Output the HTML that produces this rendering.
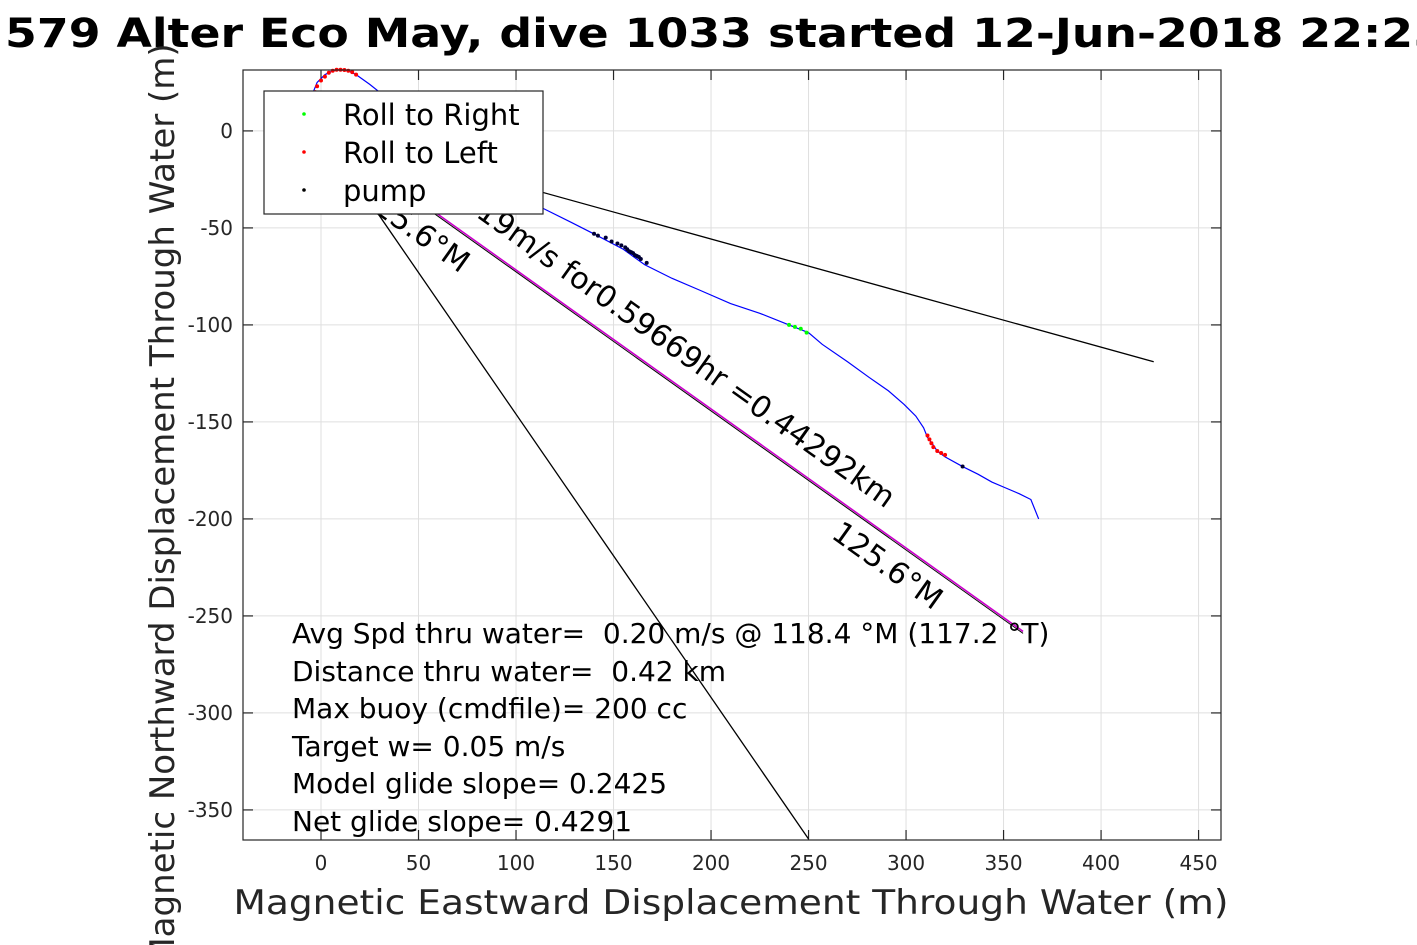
<!DOCTYPE html>
<html><head><meta charset="utf-8"><style>
html,body{margin:0;padding:0;background:#fff;}
svg{display:block;font-family:"DejaVu Sans","Liberation Sans",sans-serif;}
</style></head><body>
<svg id="chart" width="1417" height="945" viewBox="0 0 1417 945" xmlns="http://www.w3.org/2000/svg">
<rect x="0" y="0" width="1417" height="945" fill="#fff"/>
<rect x="243" y="70" width="978" height="770" fill="#fff"/>
<g id="grid"></g>
<g id="ticks"></g>
<g id="lines"></g>
<g id="labels"></g>
<rect x="243" y="70" width="978" height="770" fill="none" stroke="#262626" stroke-width="1.2"/>
<g>
<rect x="264" y="91" width="279" height="123" fill="#fff" stroke="#262626" stroke-width="1.2"/>
<circle cx="304" cy="114" r="1.8" fill="#00ff00"/>
<text x="343" y="125" font-size="29">Roll to Right</text>
<circle cx="304" cy="152" r="1.8" fill="#ff0000"/>
<text x="343" y="163" font-size="29">Roll to Left</text>
<circle cx="304" cy="190" r="1.8" fill="#000"/>
<text x="343" y="201" font-size="29">pump</text>
</g>
<g font-size="28" fill="#000">
<text x="292" y="643" xml:space="preserve">Avg Spd thru water=  0.20 m/s @ 118.4 °M (117.2 °T)</text>
<text x="292" y="681" xml:space="preserve">Distance thru water=  0.42 km</text>
<text x="292" y="718">Max buoy (cmdfile)= 200 cc</text>
<text x="292" y="756">Target w= 0.05 m/s</text>
<text x="292" y="793">Model glide slope= 0.2425</text>
<text x="292" y="831">Net glide slope= 0.4291</text>
</g>
<text x="5" y="47" font-size="40" font-weight="bold" textLength="1440" lengthAdjust="spacingAndGlyphs">579 Alter Eco May, dive 1033 started 12-Jun-2018 22:25</text>
<text x="731" y="914" font-size="34" fill="#262626" text-anchor="middle" textLength="995" lengthAdjust="spacingAndGlyphs">Magnetic Eastward Displacement Through Water (m)</text>
<text transform="translate(174,505) rotate(-90)" font-size="34" fill="#262626" text-anchor="middle">Magnetic Northward Displacement Through Water (m)</text>
</svg>
<script>
const xTicks=[0,50,100,150,200,250,300,350,400,450];
const yTicks=[0,-50,-100,-150,-200,-250,-300,-350];
const trackX=[0,-3,-4,-2,2,6,10,14,18,25,40,60,80,100,114,128,141,155,166,180,194,210,225,240,250,257,270,281,291,299,305,309,311,314,316,320,329,337,344,351,358,364,368];
const trackY=[0,10,20,25,29,31,31.5,31,29,24,12,-5,-22,-33,-40,-47,-53.6,-61,-69,-76,-82,-89,-94,-100,-104,-110,-119,-127,-134,-141,-147,-153,-158,-162,-165,-168,-173,-177,-181,-184,-187,-190,-200];
const rollLeftX=[-3,-2,0,2,4,6,8,10,12,14,16,18,311,312,313,314,316,318,320];
const rollLeftY=[20,23,26,28,30,31,31.5,31.5,31.4,31,30.3,29,-157,-159,-161,-163,-165,-166,-167];
const rollRightX=[240,243,246,249];
const rollRightY=[-100,-101,-102,-104];
const pumpX=[140,142,146,149,152,154,156,157,158,159,160,161,162,163,164,167,329];
const pumpY=[-53,-54,-55,-57,-58,-59,-60,-61,-62,-62.5,-63,-64,-64.5,-65,-66,-68,-173];
const refLineA=[[0,0],[427,-119]];
const refLineB=[[0,0],[250,-365]];
const headingLine=[[0,0],[360,-258]];
const xMin=-40,xMax=461.5,yMax=31.4,yMin=-365.5;
const L=243,R=1221,T=70,B=840;
const sx=v=>L+(v-xMin)/(xMax-xMin)*(R-L);
const sy=v=>T+(yMax-v)/(yMax-yMin)*(B-T);
const NS='http://www.w3.org/2000/svg';
function mk(tag,parent,attrs){const e=document.createElementNS(NS,tag);for(const k in attrs)e.setAttribute(k,attrs[k]);parent.appendChild(e);return e;}
const grid=document.getElementById('grid'),ticks=document.getElementById('ticks'),lines=document.getElementById('lines'),labels=document.getElementById('labels');
xTicks.forEach(v=>{const x=sx(v);
 const g=mk('line',grid,{x1:x,x2:x,y1:T,y2:B,stroke:'#dfdfdf','stroke-width':1});
 
 
 mk('line',ticks,{x1:x,x2:x,y1:B,y2:B-10,stroke:'#262626','stroke-width':1.2});
 mk('line',ticks,{x1:x,x2:x,y1:T,y2:T+10,stroke:'#262626','stroke-width':1.2});
 const t=mk('text',ticks,{x:x,y:870,'font-size':20,fill:'#262626','text-anchor':'middle'});
 
 
 t.textContent=v;});
yTicks.forEach(v=>{const y=sy(v);
 const g=mk('line',grid,{x1:L,x2:R,y1:y,y2:y,stroke:'#dfdfdf','stroke-width':1});
 
 
 mk('line',ticks,{x1:L,x2:L+10,y1:y,y2:y,stroke:'#262626','stroke-width':1.2});
 mk('line',ticks,{x1:R,x2:R-10,y1:y,y2:y,stroke:'#262626','stroke-width':1.2});
 const t=mk('text',ticks,{x:233,y:y+7,'font-size':20,fill:'#262626','text-anchor':'end'});
 
 
 t.textContent=v;});
function seg(p,color,w,name){const l=mk('line',lines,{x1:sx(p[0][0]),y1:sy(p[0][1]),x2:sx(p[1][0]),y2:sy(p[1][1]),stroke:color,'stroke-width':w});
 
 }
seg(refLineA,'#000',1.3,'reference-line-shallow');
seg(refLineB,'#000',1.3,'reference-line-steep');
seg(headingLine,'#cc00cc',1.6,'heading-line-magenta');
const hl=[[headingLine[0][0],headingLine[0][1]-1],[headingLine[1][0],headingLine[1][1]-1]];
seg(hl,'#000',1,'heading-line-black');
const pts=trackX.map((x,i)=>sx(x)+','+sy(trackY[i])).join(' ');
const pl=mk('polyline',lines,{points:pts,fill:'none',stroke:'#0000ff','stroke-width':1.2});


function dots(xs,ys,c,name){xs.forEach((x,i)=>{const d=mk('circle',lines,{cx:sx(x),cy:sy(ys[i]),r:2,fill:c});
 
 });}
dots(rollLeftX,rollLeftY,'#ff0000','roll-left-point');
dots(rollRightX,rollRightY,'#00ff00','roll-right-point');
dots(pumpX,pumpY,'#000033','pump-point');
const ang=Math.atan2(sy(headingLine[1][1])-sy(0),sx(headingLine[1][0])-sx(0))*180/Math.PI;
function lab(txt,x,y,name){const t=mk('text',labels,{x:x,y:y,'font-size':30,fill:'#000',transform:`rotate(${ang} ${x} ${y})`});
 
 
 t.textContent=txt;}
lab('0.20619m/s for0.59669hr =0.44292km',405,166,'speed-distance-label');
lab('125.6°M',830,537,'heading-label-end');
lab('125.6°M',357,200,'heading-label-start');
</script>
</body></html>
